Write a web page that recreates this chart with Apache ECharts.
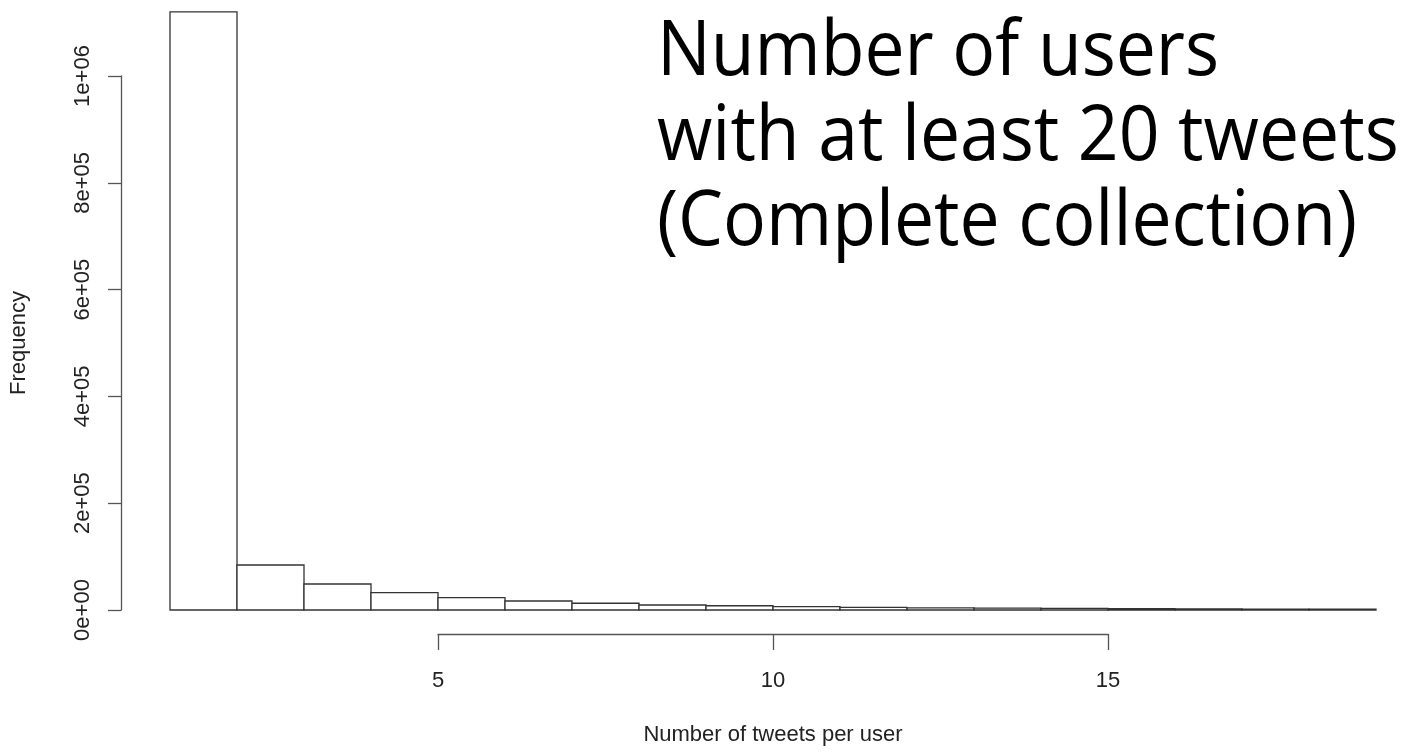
<!DOCTYPE html>
<html>
<head>
<meta charset="utf-8">
<script src="https://cdn.jsdelivr.net/npm/echarts@6/dist/echarts.min.js"></script>
<style>
  html, body { margin: 0; padding: 0; background: #fff; }
  #chart { width: 1406px; height: 754px; }
</style>
</head>
<body>
<div id="chart"></div>
<script>
// Histogram bins: left edge of each unit-wide bin (tweets per user)
const binStarts = [1, 2, 3, 4, 5, 6, 7, 8, 9, 10, 11, 12, 13, 14, 15, 16, 17, 18];
// Frequency (number of users) in each bin
const frequencies = [1120000, 84300, 48700, 32400, 23000, 16900, 12600, 9400, 8000,
                     6200, 5100, 4100, 3400, 2900, 2400, 2000, 1700, 1400];
// Axis tick values
const xTicks = [5, 10, 15];
const yTicks = [0, 200000, 400000, 600000, 800000, 1000000];
const yTickLabels = ['0e+00', '2e+05', '4e+05', '6e+05', '8e+05', '1e+06'];
const titleLines = ['Number of users', 'with at least 20 tweets', '(Complete collection)'];

const axisColor = '#555';
const textColor = '#222';
const labelFont = 'Liberation Sans';

const histData = binStarts.map((s, i) => [s, s + 1, frequencies[i]]);

const chart = echarts.init(document.getElementById('chart'), null, { renderer: 'canvas' });

chart.setOption({
  backgroundColor: '#fff',
  animation: false,
  grid: [
    // plotting region for the bars
    { left: 170, right: 30, top: 76, bottom: 144 },
    // region used by the detached x axis (spans tick 5 .. tick 15)
    { left: 438, right: 298, top: 76, bottom: 144 }
  ],
  xAxis: [
    {
      gridIndex: 0, type: 'value', min: 1, max: 19,
      show: false
    },
    {
      gridIndex: 1, type: 'value',
      min: xTicks[0], max: xTicks[xTicks.length - 1], interval: 5,
      position: 'bottom', offset: 24,
      axisLine: { show: true, onZero: false, lineStyle: { color: axisColor, width: 1.3 } },
      axisTick: { show: true, length: 16, lineStyle: { color: axisColor, width: 1.3 } },
      axisLabel: { show: true, margin: 36, color: textColor, fontSize: 22, fontFamily: labelFont },
      splitLine: { show: false },
      name: 'Number of tweets per user',
      nameLocation: 'middle', nameGap: 90,
      nameTextStyle: { color: textColor, fontSize: 22, fontFamily: labelFont }
    }
  ],
  yAxis: [
    {
      gridIndex: 0, type: 'value',
      min: yTicks[0], max: yTicks[yTicks.length - 1], interval: 200000,
      position: 'left', offset: 49,
      axisLine: { show: true, onZero: false, lineStyle: { color: axisColor, width: 1.3 } },
      axisTick: { show: true, length: 13, lineStyle: { color: axisColor, width: 1.3 } },
      axisLabel: {
        show: true, rotate: 90, margin: 27, color: textColor, fontSize: 22, fontFamily: labelFont,
        formatter: v => yTickLabels[yTicks.indexOf(v)] ?? ''
      },
      splitLine: { show: false },
      name: 'Frequency',
      nameLocation: 'middle', nameGap: 91, nameRotate: 90,
      nameTextStyle: { color: textColor, fontSize: 22, fontFamily: labelFont }
    },
    { gridIndex: 1, type: 'value', min: 0, max: 1000000, show: false }
  ],
  series: [
    {
      type: 'custom',
      xAxisIndex: 0, yAxisIndex: 0,
      clip: false,
      data: histData,
      renderItem: (params, api) => {
        const p0 = api.coord([api.value(0), 0]);
        const p1 = api.coord([api.value(1), api.value(2)]);
        return {
          type: 'rect',
          shape: { x: p0[0], y: p1[1], width: p1[0] - p0[0], height: p0[1] - p1[1] },
          style: { fill: '#fff', stroke: '#333', lineWidth: 1.3 }
        };
      }
    }
  ],
  // three-line annotation in the upper right
  graphic: titleLines.map((line, i) => ({
    type: 'text',
    x: 657,
    y: 15 + i * 85,
    scaleX: 0.94,
    style: {
      text: line,
      font: '76px "Open Sans"',
      fill: '#000'
    }
  }))
});
</script>
</body>
</html>
